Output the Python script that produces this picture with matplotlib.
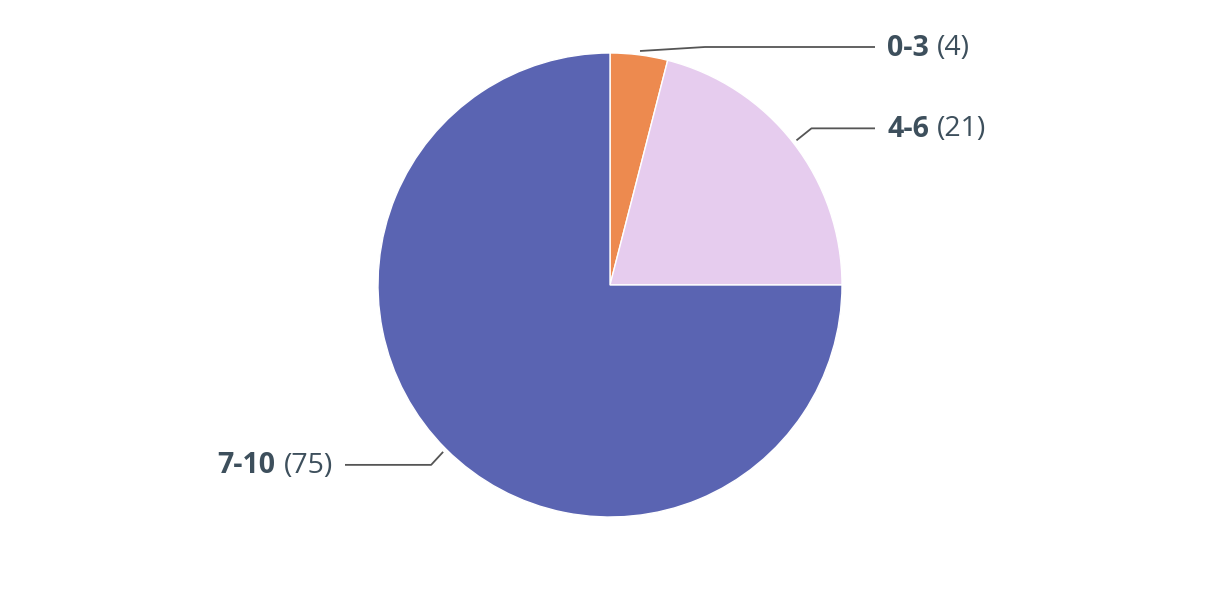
import numpy as np
import matplotlib.pyplot as plt

labels = ['0-3', '4-6', '7-10']
values = [4, 21, 75]
colors = ['#ED8A4F', '#E6CCEE', '#5A64B2']

W, H = 1220, 592
cx, cy, R = 610, H - 285, 232
txt_col = '#3D4F5C'
line_col = '#555555'

fig = plt.figure(figsize=(W / 100, H / 100), dpi=100)
ax = fig.add_axes([0, 0, 1, 1])
ax.set_xlim(0, W)
ax.set_ylim(0, H)
ax.axis('off')

wedges, _ = ax.pie(values, colors=colors, startangle=90, counterclock=False,
                   center=(cx, cy), radius=R,
                   wedgeprops=dict(edgecolor='white', linewidth=1))
ax.set_xlim(0, W)
ax.set_ylim(0, H)

# leader lines: start just outside the slice, elbow, then horizontal to text
elbow_dx = [65, 15, -12]
elbow_dy = [4, 12, -13]
text_x = [875, 875, 345]
fs = 20.5
fig.canvas.draw()
r = fig.canvas.get_renderer()
for w, lab, v, edx, edy, tx in zip(wedges, labels, values, elbow_dx, elbow_dy, text_x):
    a = np.deg2rad((w.theta1 + w.theta2) / 2)
    x0, y0 = cx + (R + 4) * np.cos(a), cy + (R + 4) * np.sin(a)
    if lab == '0-3':
        x0, y0 = 640, H - 51
    x1, y1 = x0 + edx, y0 + edy
    ax.plot([x0, x1, tx], [y0, y1, y1], color=line_col, lw=1.3, solid_capstyle='butt')
    ty = y1 - 1
    if tx > cx:
        t1 = ax.text(tx + 12, ty, lab, fontsize=fs, fontweight='bold', color=txt_col,
                     family='Open Sans', va='center', ha='left')
        bb = t1.get_window_extent(r)
        ax.text(bb.x1 + 8, ty, '(%d)' % v, fontsize=fs, color=txt_col,
                family='Open Sans', va='center', ha='left')
    else:
        t2 = ax.text(tx - 12, ty, '(%d)' % v, fontsize=fs, color=txt_col,
                     family='Open Sans', va='center', ha='right')
        bb = t2.get_window_extent(r)
        ax.text(bb.x0 - 8, ty, lab, fontsize=fs, fontweight='bold', color=txt_col,
                family='Open Sans', va='center', ha='right')

fig.savefig('out.png', dpi=100)
